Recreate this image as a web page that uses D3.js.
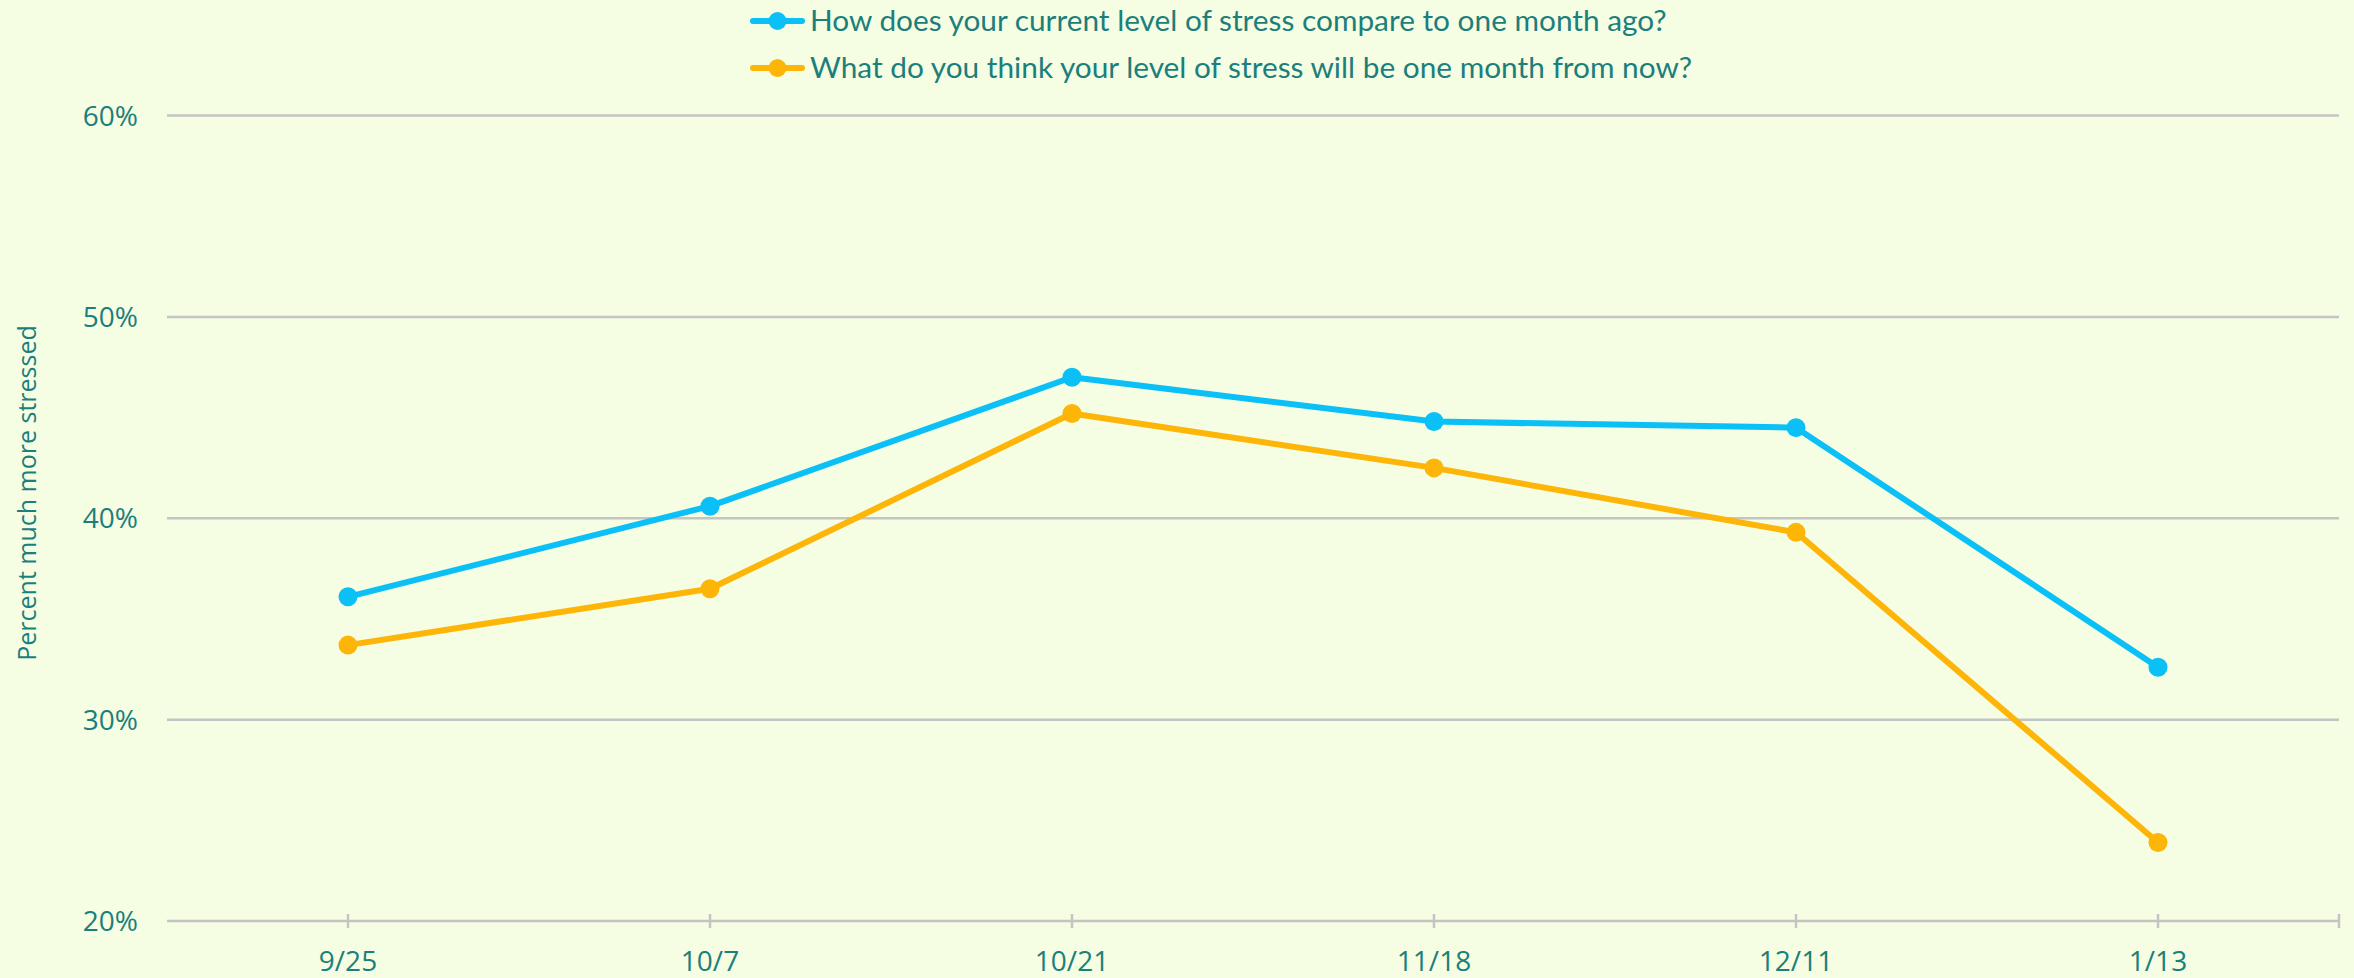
<!DOCTYPE html>
<html>
<head>
<meta charset="utf-8">
<script src="https://cdn.jsdelivr.net/npm/d3@7"></script>
<style>
  html, body { margin: 0; padding: 0; background: #f5fde3; }
  svg { display: block; }
  .tick-label { fill: #1b7f7b; font-family: "Open Sans", sans-serif; font-size: 28px; }
  .legend-label { fill: #1b7f7b; font-family: Lato, sans-serif; font-size: 29.8px; }
  .axis-title { fill: #1b7f7b; font-family: "Open Sans", sans-serif; font-size: 25px; }
</style>
</head>
<body>
<div id="chart"></div>
<script>
var categories = ['9/25', '10/7', '10/21', '11/18', '12/11', '1/13'];
var currentVsLastMonth = [36.1, 40.6, 47.0, 44.8, 44.5, 32.6];
var nextMonthOutlook = [33.7, 36.5, 45.2, 42.5, 39.3, 23.9];
var seriesNames = [
  'How does your current level of stress compare to one month ago?',
  'What do you think your level of stress will be one month from now?'
];
var seriesColors = ['#0bbff7', '#fdb508'];
var yTicks = [20, 30, 40, 50, 60];

var width = 2354, height = 978;
var plotLeft = 167, plotRight = 2339, plotTop = 115.5, plotBottom = 921;

var svg = d3.select('#chart').append('svg')
  .attr('width', width)
  .attr('height', height);

svg.append('rect')
  .attr('width', width)
  .attr('height', height)
  .attr('fill', '#f5fde3');

var x = d3.scaleBand()
  .domain(categories)
  .range([plotLeft, plotRight]);

var y = d3.scaleLinear()
  .domain([20, 60])
  .range([plotBottom, plotTop]);

function cx(c) { return x(c) + x.bandwidth() / 2; }

// gridlines
svg.append('g')
  .selectAll('line')
  .data(yTicks)
  .enter()
  .append('line')
  .attr('x1', plotLeft)
  .attr('x2', plotRight)
  .attr('y1', function(d) { return y(d); })
  .attr('y2', function(d) { return y(d); })
  .attr('stroke', '#c4c4c4')
  .attr('stroke-width', 2.5);

svg.append('g')
  .selectAll('text')
  .data(yTicks)
  .enter()
  .append('text')
  .attr('class', 'tick-label')
  .attr('x', 138)
  .attr('y', function(d) { return y(d) + 10; })
  .attr('text-anchor', 'end')
  .text(function(d) { return d + '%'; });

// x axis tick marks at category centres plus the right end
var tickXs = categories.map(cx);
tickXs.push(plotRight);
svg.append('g')
  .selectAll('line')
  .data(tickXs)
  .enter()
  .append('line')
  .attr('x1', function(d) { return d; })
  .attr('x2', function(d) { return d; })
  .attr('y1', plotBottom - 7)
  .attr('y2', plotBottom + 7)
  .attr('stroke', '#c4c4c4')
  .attr('stroke-width', 2.5);

svg.append('g')
  .selectAll('text')
  .data(categories)
  .enter()
  .append('text')
  .attr('class', 'tick-label')
  .attr('x', cx)
  .attr('y', 971)
  .attr('text-anchor', 'middle')
  .text(function(d) { return d; });

svg.append('text')
  .attr('class', 'axis-title')
  .attr('transform', 'translate(36,493) rotate(-90)')
  .attr('text-anchor', 'middle')
  .text('Percent much more stressed');

// series
var series = [currentVsLastMonth, nextMonthOutlook];
var line = d3.line()
  .x(function(d, i) { return cx(categories[i]); })
  .y(function(d) { return y(d); });

series.forEach(function(values, s) {
  var g = svg.append('g');
  g.append('path')
    .datum(values)
    .attr('d', line)
    .attr('fill', 'none')
    .attr('stroke', seriesColors[s])
    .attr('stroke-width', 6)
    .attr('stroke-linejoin', 'round');
  g.selectAll('circle')
    .data(values)
    .enter()
    .append('circle')
    .attr('cx', function(d, i) { return cx(categories[i]); })
    .attr('cy', function(d) { return y(d); })
    .attr('r', 9.5)
    .attr('fill', seriesColors[s]);
});

// legend
var legend = svg.append('g');
seriesNames.forEach(function(name, i) {
  var ly = 21 + i * 47;
  legend.append('line')
    .attr('x1', 753).attr('x2', 802)
    .attr('y1', ly).attr('y2', ly)
    .attr('stroke', seriesColors[i])
    .attr('stroke-width', 6)
    .attr('stroke-linecap', 'round');
  legend.append('circle')
    .attr('cx', 777.5).attr('cy', ly)
    .attr('r', 9)
    .attr('fill', seriesColors[i]);
  legend.append('text')
    .attr('class', 'legend-label')
    .attr('x', 810)
    .attr('y', ly + 10)
    .text(name);
});
</script>
</body>
</html>
